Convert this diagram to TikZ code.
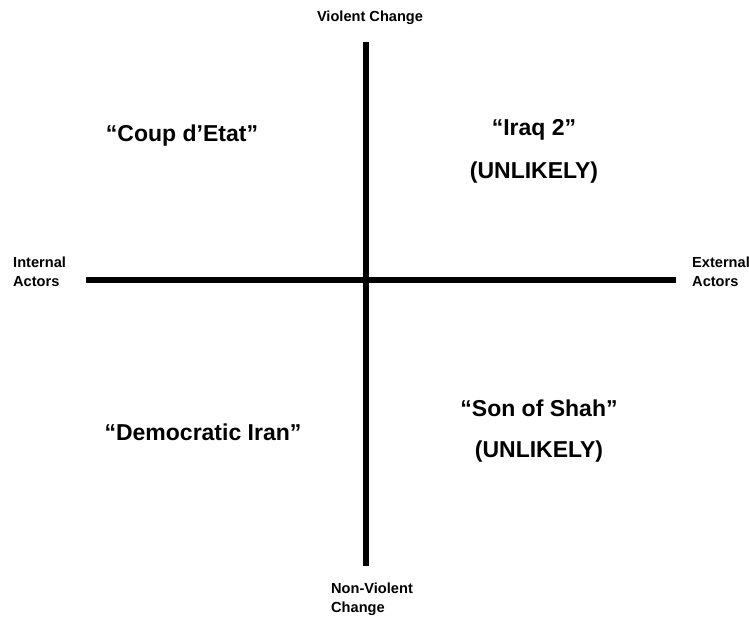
\documentclass[tikz,border=0pt]{standalone}
\usepackage{fontspec}
\setmainfont{Liberation Sans}
\begin{document}
\begin{tikzpicture}[x=1pt,y=-1pt,
  axis/.style={line width=5.5pt},
  small/.style={font=\fontsize{14.6}{19}\selectfont\bfseries, inner sep=0pt},
  big/.style={font=\fontsize{23}{26}\selectfont\bfseries, inner sep=0pt}]
\useasboundingbox (0,0) rectangle (749,619);
\coordinate (vt) at (366,42);
\coordinate (vb) at (366,566);
\coordinate (hl) at (86,280);
\coordinate (hr) at (676,280);
\draw[axis] (vt) -- (vb);
\draw[axis] (hl) -- (hr);
\node[small] (top) at (370,18) {Violent Change};
\node[small, anchor=west, align=left] (left) at (13,272) {Internal\\Actors};
\node[small, anchor=west, align=left] (right) at (692,272) {External\\Actors};
\node[small, anchor=west, align=left] (bottom) at (331,599) {Non-Violent\\Change};
\node[big] (coup) at (182,136) {“Coup d’Etat”};
\node[big] (iraq) at (534,130) {“Iraq 2”};
\node[big] (unl1) at (534,173) {(UNLIKELY)};
\node[big] (demo) at (203,432) {“Democratic Iran”};
\node[big] (shah) at (539,408) {“Son of Shah”};
\node[big] (unl2) at (539,452) {(UNLIKELY)};
\end{tikzpicture}
\end{document}
